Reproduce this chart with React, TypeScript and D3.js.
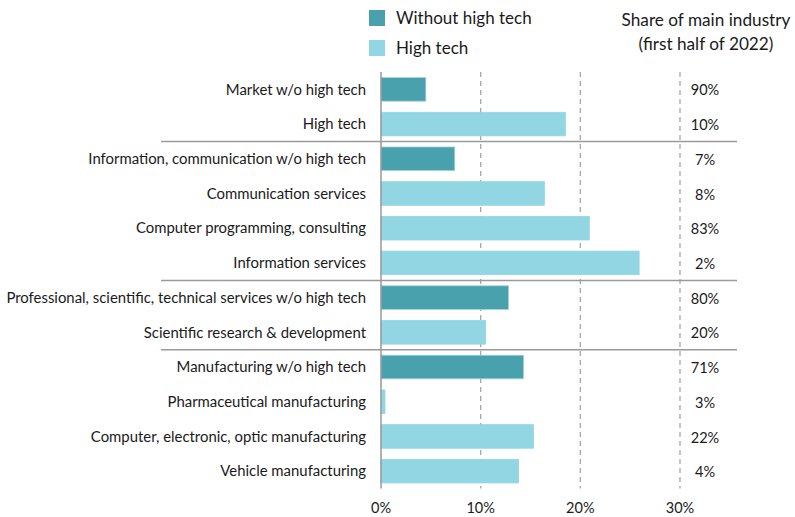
import React from "react";
import * as d3 from "d3";

const categories = [
  "Market w/o high tech",
  "High tech",
  "Information, communication w/o high tech",
  "Communication services",
  "Computer programming, consulting",
  "Information services",
  "Professional, scientific, technical services w/o high tech",
  "Scientific research & development",
  "Manufacturing w/o high tech",
  "Pharmaceutical manufacturing",
  "Computer, electronic, optic manufacturing",
  "Vehicle manufacturing",
];
const values = [4.5, 18.5, 7.4, 16.4, 20.9, 25.9, 12.8, 10.5, 14.3, 0.4, 15.3, 13.8];
const groups = ["without", "high", "without", "high", "high", "high", "without", "high", "without", "high", "high", "high"];
const shares = ["90%", "10%", "7%", "8%", "83%", "2%", "80%", "20%", "71%", "3%", "22%", "4%"];
const separatorsAfter = [1, 5, 7];
const xTicks = [0, 10, 20, 30];
const legendItems = [
  { key: "without", label: "Without high tech" },
  { key: "high", label: "High tech" },
];
const colors: Record<string, string> = { without: "#49a1ad", high: "#93d6e3" };
const strokes: Record<string, string> = { without: "#a4d3da", high: "#93d6e3" };

const FONT = "Lato, 'Open Sans', sans-serif";

export default function App() {
  const W = 795, H = 517;
  const x = d3.scaleLinear().domain([0, 30]).range([381, 680]);
  const y = d3.scaleBand<string>().domain(categories).range([72, 488.5]).paddingInner(0.32).paddingOuter(0.16);
  const step = y.step();
  const top = 72, bottom = 488.5;

  return (
    <svg width={W} height={H} style={{ position: "absolute", left: 0, top: 0, background: "#fff" }} fontFamily={FONT}>
      {/* gridlines */}
      {xTicks.filter((t) => t > 0).map((t) => (
        <line key={t} x1={x(t)} x2={x(t)} y1={top} y2={bottom} stroke="#a6a6a6" strokeWidth={1.3} strokeDasharray="5,4" />
      ))}
      {/* separators */}
      {separatorsAfter.map((i) => {
        const yy = y(categories[i])! + y.bandwidth() + (step - y.bandwidth()) / 2 + 0.2;
        return <line key={i} x1={161} x2={737} y1={yy} y2={yy} stroke="#9a9a9a" strokeWidth={1.5} />;
      })}
      {/* bars */}
      {categories.map((c, i) => (
        <rect key={c} x={x(0)} y={y(c)!} width={x(values[i]) - x(0)} height={y.bandwidth()}
          fill={colors[groups[i]]} stroke={strokes[groups[i]]} strokeWidth={0.8} />
      ))}
      {/* axis line */}
      <line x1={x(0)} x2={x(0)} y1={top} y2={bottom} stroke="#999" strokeWidth={1.5} />
      {/* category labels */}
      {categories.map((c) => (
        <text key={c} x={366} y={y(c)! + y.bandwidth() / 2} dy="0.35em" textAnchor="end" fontSize={14.9} fill="#1a1a1a">{c}</text>
      ))}
      {/* share labels */}
      {categories.map((c, i) => (
        <text key={c} x={705} y={y(c)! + y.bandwidth() / 2 + 1} dy="0.35em" textAnchor="middle" fontSize={14.5} fill="#1a1a1a">{shares[i]}</text>
      ))}
      {/* tick labels */}
      {xTicks.map((t) => (
        <text key={t} x={x(t)} y={508} dy="0.35em" textAnchor="middle" fontSize={14.5} fill="#1a1a1a">{t}%</text>
      ))}
      {/* legend */}
      {legendItems.map((l, i) => (
        <g key={l.key} transform={`translate(369, ${10 + i * 30})`}>
          <rect width={16} height={16} fill={colors[l.key]} />
          <text x={27} y={8} dy="0.35em" fontSize={17} fill="#1a1a1a">{l.label}</text>
        </g>
      ))}
      {/* right header */}
      <text x={706} y={20} dy="0.35em" textAnchor="middle" fontSize={17.2} fill="#1a1a1a">Share of main industry</text>
      <text x={706} y={44} dy="0.35em" textAnchor="middle" fontSize={17.2} fill="#1a1a1a">(first half of 2022)</text>
    </svg>
  );
}
